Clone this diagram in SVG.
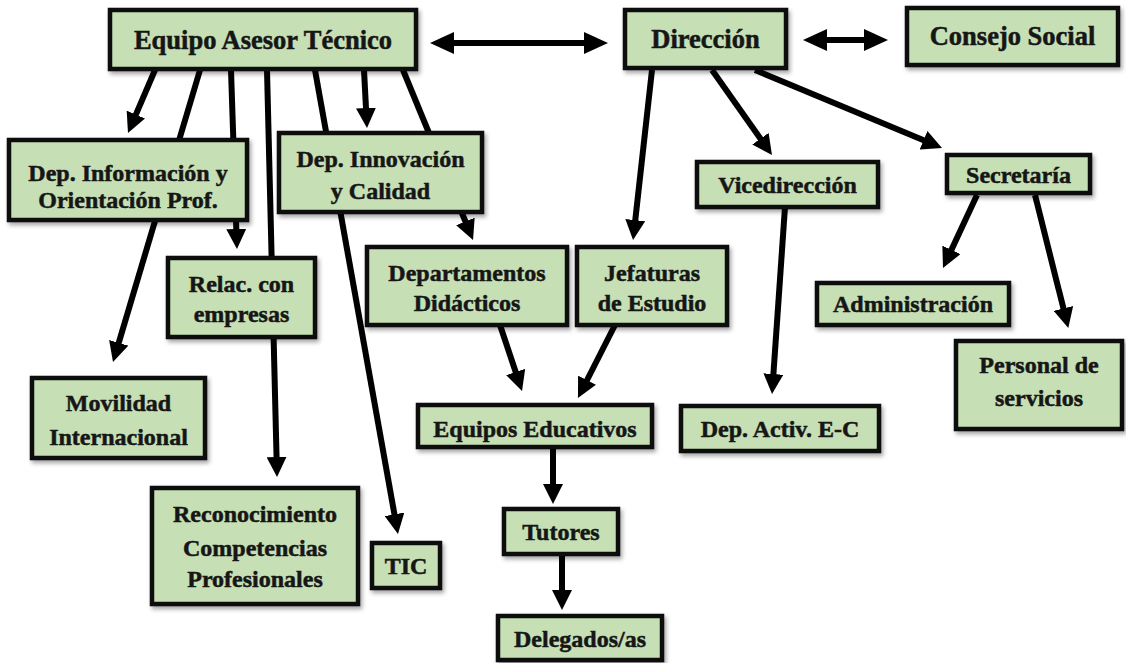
<svg xmlns="http://www.w3.org/2000/svg" width="1126" height="663" viewBox="0 0 1126 663">
<style>
.box{fill:#c6dfb4;stroke:#0d0d0d;stroke-width:4.5;filter:url(#sh)}
.t{font-family:"Liberation Serif","Times New Roman",serif;font-weight:bold;font-size:24px;fill:#161616;stroke:#161616;stroke-width:0.5;text-anchor:middle}
.big{font-size:26.5px}
.c{fill:none;stroke:#000;stroke-width:6;marker-end:url(#ah)}
.d{fill:none;stroke:#000;stroke-width:6;marker-end:url(#ah2);marker-start:url(#ah2)}
</style>
<defs>
<filter id="sh" x="-10%" y="-10%" width="125%" height="135%">
<feDropShadow dx="2" dy="3" stdDeviation="2" flood-color="#000" flood-opacity="0.35"/>
</filter>
<marker id="ah" markerUnits="userSpaceOnUse" viewBox="0 0 20 20" markerWidth="20" markerHeight="20" refX="6" refY="10" orient="auto-start-reverse">
<path d="M0,0 L20,10 L0,20 z" fill="#000"/>
</marker>
<marker id="ah2" markerUnits="userSpaceOnUse" viewBox="0 0 24 22" markerWidth="24" markerHeight="22" refX="8" refY="11" orient="auto-start-reverse">
<path d="M0,0 L24,11 L0,22 z" fill="#000"/>
</marker>
</defs>
<rect width="1126" height="663" fill="#fff"/>
<g id="connectors">
<line class="c" x1="155" y1="70" x2="133.5" y2="120.1"/>
<line class="c" x1="200" y1="70" x2="117" y2="348.6"/>
<line class="c" x1="231" y1="70" x2="236.5" y2="235"/>
<line class="c" x1="267" y1="70" x2="276.7" y2="463"/>
<line class="c" x1="315" y1="70" x2="395.5" y2="520.2"/>
<line class="c" x1="364" y1="70" x2="366.3" y2="114"/>
<line class="c" x1="403" y1="70" x2="467.7" y2="227"/>
<line class="d" x1="446" y1="43" x2="592" y2="43"/>
<line class="d" x1="819" y1="40" x2="872" y2="40"/>
<line class="c" x1="652" y1="70" x2="634.6" y2="226.1"/>
<line class="c" x1="712" y1="70" x2="763.9" y2="143.6"/>
<line class="c" x1="755" y1="70" x2="929.1" y2="142.5"/>
<line class="c" x1="977" y1="195" x2="948.9" y2="255.3"/>
<line class="c" x1="1035" y1="195" x2="1064.9" y2="314.3"/>
<line class="c" x1="785" y1="207" x2="773" y2="380"/>
<line class="c" x1="500" y1="325" x2="517.6" y2="377.7"/>
<line class="c" x1="615" y1="325" x2="584.3" y2="385.5"/>
<line class="c" x1="553" y1="447" x2="553" y2="490"/>
<line class="c" x1="562" y1="554" x2="562" y2="596"/>
</g>
<g id="n-equipo"><rect class="box" x="110" y="10" width="306" height="59"/><text class="t big" x="263" y="49">Equipo Asesor Técnico</text></g>
<g id="n-direccion"><rect class="box" x="625" y="10" width="161" height="58"/><text class="t big" x="705.5" y="48">Dirección</text></g>
<g id="n-consejo"><rect class="box" x="907" y="8" width="211" height="57"/><text class="t big" x="1012.5" y="45">Consejo Social</text></g>
<g id="n-depinfo"><rect class="box" x="9" y="140" width="238" height="80"/><text class="t" x="128" y="181">Dep. Información y</text><text class="t" x="128" y="208">Orientación Prof.</text></g>
<g id="n-depinnov"><rect class="box" x="279" y="133" width="203" height="79"/><text class="t" x="380.5" y="167">Dep. Innovación</text><text class="t" x="380.5" y="199">y Calidad</text></g>
<g id="n-relac"><rect class="box" x="168" y="258" width="147" height="79"/><text class="t" x="241.5" y="292">Relac. con</text><text class="t" x="241.5" y="322">empresas</text></g>
<g id="n-departamentos"><rect class="box" x="367" y="247" width="200" height="78"/><text class="t" x="467" y="281">Departamentos</text><text class="t" x="467" y="311">Didácticos</text></g>
<g id="n-jefaturas"><rect class="box" x="577" y="247" width="150" height="78"/><text class="t" x="652" y="281">Jefaturas</text><text class="t" x="652" y="311">de Estudio</text></g>
<g id="n-vicedireccion"><rect class="box" x="697" y="162" width="181" height="45"/><text class="t" x="787.5" y="193">Vicedirección</text></g>
<g id="n-secretaria"><rect class="box" x="947" y="155" width="143" height="38"/><text class="t" x="1018.5" y="183">Secretaría</text></g>
<g id="n-administracion"><rect class="box" x="817" y="283" width="192" height="42"/><text class="t" x="913" y="312">Administración</text></g>
<g id="n-personal"><rect class="box" x="956" y="341" width="166" height="88"/><text class="t" x="1039" y="373">Personal de</text><text class="t" x="1039" y="406">servicios</text></g>
<g id="n-movilidad"><rect class="box" x="32" y="378" width="173" height="80"/><text class="t" x="118.5" y="411">Movilidad</text><text class="t" x="118.5" y="445">Internacional</text></g>
<g id="n-reconocimiento"><rect class="box" x="152" y="488" width="206" height="116"/><text class="t" x="255" y="522">Reconocimiento</text><text class="t" x="255" y="556">Competencias</text><text class="t" x="255" y="587">Profesionales</text></g>
<g id="n-tic"><rect class="box" x="372" y="543" width="68" height="45"/><text class="t" x="406" y="574">TIC</text></g>
<g id="n-equipos-ed"><rect class="box" x="418" y="405" width="234" height="42"/><text class="t" x="535" y="437">Equipos Educativos</text></g>
<g id="n-depactiv"><rect class="box" x="681" y="406" width="198" height="45"/><text class="t" x="780" y="437">Dep. Activ. E-C</text></g>
<g id="n-tutores"><rect class="box" x="504" y="509" width="114" height="45"/><text class="t" x="561" y="540">Tutores</text></g>
<g id="n-delegados"><rect class="box" x="498" y="616" width="164" height="44"/><text class="t" x="580" y="647">Delegados/as</text></g>
</svg>
